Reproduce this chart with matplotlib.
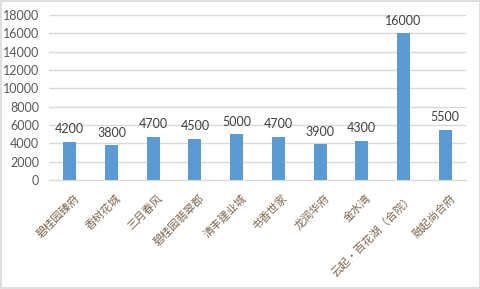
import matplotlib.pyplot as plt
import matplotlib.transforms as mtransforms
import numpy as np

plt.rcParams['font.family'] = ['Noto Sans CJK SC', 'DejaVu Sans']

# datos del gráfico
proyectos = ['碧桂园臻府', '香树花城', '三月春风', '碧桂园翡翠郡', '清丰建业城',
             '书香世家', '龙润华府', '金水湾', '云起·百花湖（合院）', '融起尚合府']
precios = [4200, 3800, 4700, 4500, 5000, 4700, 3900, 4300, 16000, 5500]
yticks = np.arange(0, 18001, 2000)

fig = plt.figure(figsize=(4.81, 2.89), dpi=100)
ax = fig.add_axes([49 / 481, 1 - 180 / 289, (466 - 49) / 481, (180 - 15) / 289])

# borde gris de la figura
fig.patches.append(plt.Rectangle((0.002, 0.003), 0.995, 0.994, transform=fig.transFigure,
                                 fill=False, edgecolor='#d9d9d9', linewidth=1.2))

x = np.arange(len(proyectos))
ax.bar(x, precios, width=0.31, color='#5b9bd5', zorder=2)

for xi, v in zip(x, precios):
    ax.text(xi, v + 700, str(v), ha='center', va='bottom', fontsize=9,
            color='#404040', family='Lato')

ax.set_xlim(-0.5, len(proyectos) - 0.5)
ax.set_ylim(0, 18000)
ax.set_yticks(yticks)
ax.set_yticklabels([str(t) for t in yticks], fontsize=9, color='#595959', family='Lato')
ax.grid(axis='y', color='#d9d9d9', linewidth=1, zorder=0)
ax.tick_params(axis='both', length=0)
ax.tick_params(axis='y', pad=7)

ax.set_xticks(x)
ax.set_xticklabels(proyectos, rotation=45, ha='right', rotation_mode='anchor',
                   fontsize=8, color='#7a6652')
ax.tick_params(axis='x', pad=9)
desplaza = mtransforms.ScaledTranslation(4 / 100, 0, fig.dpi_scale_trans)
for lbl in ax.get_xticklabels():
    lbl.set_transform(lbl.get_transform() + desplaza)

for s in ['top', 'right', 'left']:
    ax.spines[s].set_visible(False)
ax.spines['bottom'].set_color('#d9d9d9')

fig.savefig('out.png', dpi=100)
